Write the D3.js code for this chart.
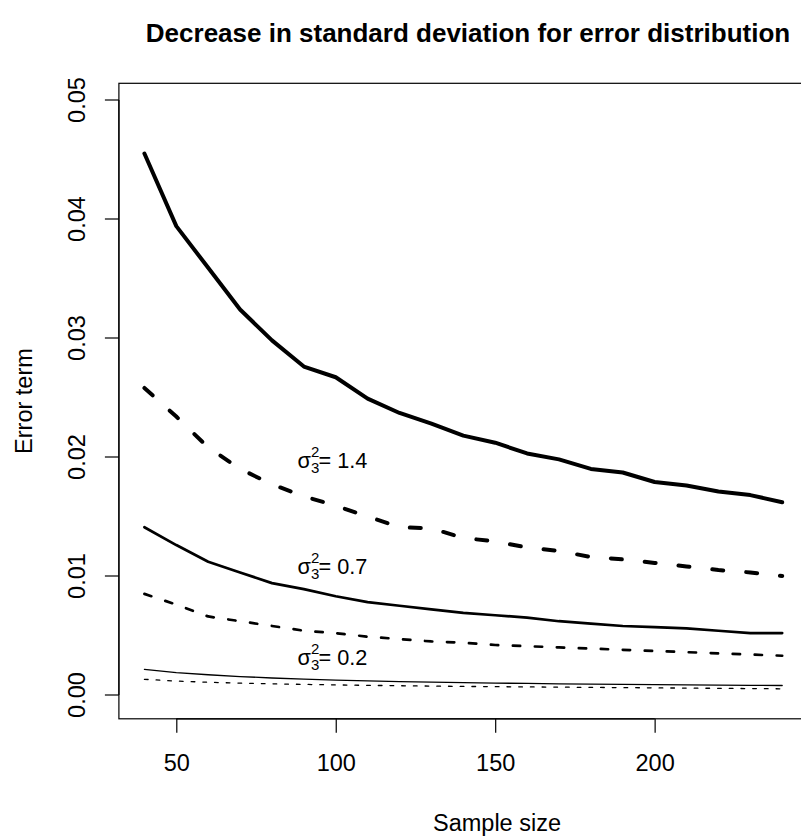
<!DOCTYPE html>
<html>
<head>
<meta charset="utf-8">
<script src="https://cdn.jsdelivr.net/npm/d3@7"></script>
<style>
  body { margin: 0; background: #fff; }
  svg { display: block; font-family: "Liberation Sans", Arial, sans-serif; }
</style>
</head>
<body>
<svg id="chart" width="801" height="836"></svg>
<script>
// sample sizes
var sampleSize = [40, 50, 60, 70, 80, 90, 100, 110, 120, 130, 140, 150, 160, 170, 180, 190, 200, 210, 220, 230, 240];

// sigma3^2 = 1.4
var s14a = [0.0455, 0.0394, 0.0359, 0.0324, 0.0298, 0.0276, 0.0267, 0.0249, 0.0237, 0.0228, 0.0218, 0.0212, 0.0203, 0.0198, 0.0190, 0.0187, 0.0179, 0.0176, 0.0171, 0.0168, 0.0162];
var s14b = [0.0258, 0.0234, 0.0208, 0.0190, 0.0177, 0.0167, 0.0159, 0.0150, 0.0141, 0.0140, 0.0132, 0.0129, 0.0124, 0.0121, 0.0116, 0.0114, 0.0111, 0.0108, 0.0105, 0.0103, 0.0100];
// sigma3^2 = 0.7
var s07a = [0.0141, 0.0126, 0.0112, 0.0103, 0.0094, 0.0089, 0.0083, 0.0078, 0.0075, 0.0072, 0.0069, 0.0067, 0.0065, 0.0062, 0.0060, 0.0058, 0.0057, 0.0056, 0.0054, 0.0052, 0.0052];
var s07b = [0.0085, 0.0076, 0.0066, 0.0062, 0.0058, 0.0054, 0.0052, 0.0049, 0.0047, 0.0045, 0.0044, 0.0042, 0.0041, 0.0040, 0.0039, 0.0038, 0.0037, 0.0036, 0.0035, 0.0034, 0.0033];
// sigma3^2 = 0.2
var s02a = [0.00216, 0.00188, 0.0017, 0.00155, 0.00143, 0.00133, 0.00125, 0.00118, 0.00113, 0.00108, 0.00104, 0.0010, 0.00097, 0.00094, 0.00091, 0.00089, 0.00087, 0.00085, 0.00083, 0.00081, 0.0008];
var s02b = [0.00132, 0.00117, 0.00107, 0.0010, 0.00094, 0.00089, 0.00085, 0.00081, 0.00078, 0.00075, 0.00072, 0.0007, 0.00068, 0.00066, 0.00064, 0.00062, 0.0006, 0.00058, 0.00056, 0.00054, 0.00052];

var xTicks = [50, 100, 150, 200];
var yTicks = [0, 0.01, 0.02, 0.03, 0.04, 0.05];

var labelText = ['1.4', '0.7', '0.2'];
var labelX = [88, 88, 88];
var labelY = [0.0191, 0.0102, 0.0025];

var svg = d3.select('#chart');

// R style: 4% padding around the data range
var x = d3.scaleLinear().domain([32, 248]).range([118.9, 807.7]);
var y = d3.scaleLinear().domain([-0.002, 0.052]).range([718.8, 76.2]);

var series = [
  { values: s14a, width: 4, dash: null },
  { values: s14b, width: 4, dash: '11 23' },
  { values: s07a, width: 2.7, dash: null },
  { values: s07b, width: 2.7, dash: '7.3 14.7' },
  { values: s02a, width: 1.3, dash: null },
  { values: s02b, width: 1.3, dash: '3.7 8' }
];

var line = d3.line()
  .x(function(d) { return x(d[0]); })
  .y(function(d) { return y(d[1]); });

svg.selectAll('path.series')
  .data(series)
  .enter()
  .append('path')
  .attr('class', 'series')
  .attr('fill', 'none')
  .attr('stroke', '#000')
  .attr('stroke-linecap', 'round')
  .attr('stroke-linejoin', 'round')
  .attr('stroke-width', function(d) { return d.width; })
  .attr('stroke-dasharray', function(d) { return d.dash; })
  .attr('d', function(d) {
    return line(d.values.map(function(v, i) { return [sampleSize[i], v]; }));
  });

// box
svg.append('rect')
  .attr('x', x(32)).attr('y', 83.3)
  .attr('width', x(248) - x(32)).attr('height', y(-0.002) - 83.3)
  .attr('fill', 'none').attr('stroke', '#000').attr('stroke-width', 1.2);

var fs = 23.5;

// axes, ticks only between first and last tick
var xAxis = svg.append('g')
  .attr('transform', 'translate(0,' + y(-0.002) + ')')
  .call(d3.axisBottom(x).tickValues(xTicks).tickSize(14).tickPadding(22).tickFormat(d3.format('d')));
xAxis.select('.domain').attr('d', 'M' + x(50) + ',0H' + x(200)).attr('stroke-width', 1.2);
xAxis.selectAll('line').attr('stroke-width', 1.2);
xAxis.selectAll('text').attr('font-size', fs).attr('fill', '#000')
  .attr('font-family', '"Liberation Sans", Arial, sans-serif');

var yAxis = svg.append('g')
  .attr('transform', 'translate(' + x(32) + ',0)')
  .call(d3.axisLeft(y).tickValues(yTicks).tickSize(14).tickFormat(d3.format('.2f')));
yAxis.select('.domain').attr('d', 'M0,' + y(0) + 'V' + y(0.05)).attr('stroke-width', 1.2);
yAxis.selectAll('line').attr('stroke-width', 1.2);
yAxis.selectAll('text')
  .attr('font-size', fs).attr('fill', '#000')
  .attr('font-family', '"Liberation Sans", Arial, sans-serif')
  .attr('text-anchor', 'middle')
  .attr('dy', null)
  .attr('x', null)
  .attr('transform', function(d) { return 'translate(-34,' + y(d) + ') rotate(-90)'; })
  .attr('y', 0);
yAxis.selectAll('.tick').attr('transform', null);
yAxis.selectAll('.tick line').attr('transform', function(d) { return 'translate(0,' + y(d) + ')'; });

// titles
svg.append('text')
  .attr('x', 468).attr('y', 42)
  .attr('text-anchor', 'middle')
  .attr('font-size', 26).attr('font-weight', 'bold')
  .text('Decrease in standard deviation for error distribution');

svg.append('text')
  .attr('x', 497).attr('y', 831)
  .attr('text-anchor', 'middle')
  .attr('font-size', fs)
  .text('Sample size');

svg.append('text')
  .attr('transform', 'translate(32,' + (83.3 + y(-0.002)) / 2 + ') rotate(-90)')
  .attr('text-anchor', 'middle')
  .attr('font-size', fs)
  .text('Error term');

// curve labels: sigma_3^2 = value
var labels = svg.selectAll('g.lab')
  .data(labelText)
  .enter()
  .append('g')
  .attr('class', 'lab')
  .attr('transform', function(d, i) { return 'translate(' + x(labelX[i]) + ',' + y(labelY[i]) + ')'; });

labels.append('text').attr('x', 0).attr('y', 0).attr('font-size', 21.7).text('σ');
labels.append('text').attr('x', 13.5).attr('y', -11).attr('font-size', 15).text('2');
labels.append('text').attr('x', 13.5).attr('y', 5).attr('font-size', 15).text('3');
labels.append('text').attr('x', 21).attr('y', 0).attr('font-size', 21.7).text(function(d) { return '= ' + d; });
</script>
</body>
</html>
